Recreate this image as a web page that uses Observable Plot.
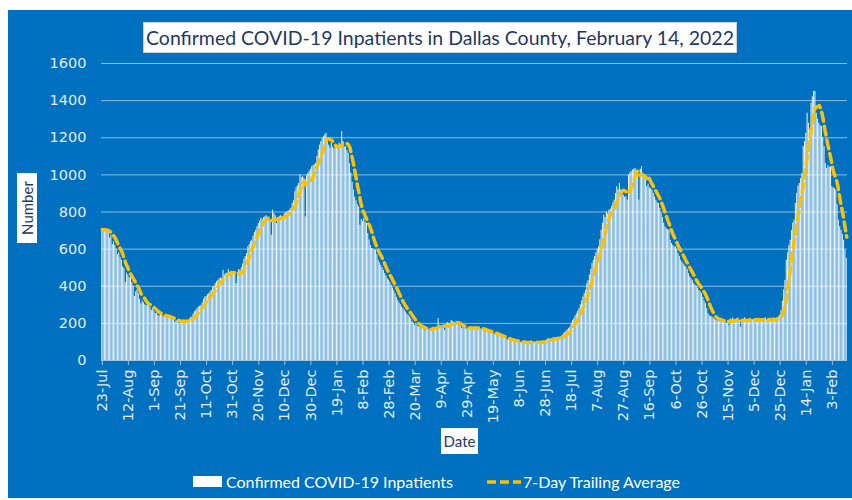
<!DOCTYPE html>
<html><head><meta charset="utf-8">
<script src="https://cdn.jsdelivr.net/npm/d3@7"></script>
<script src="https://cdn.jsdelivr.net/npm/@observablehq/plot@0.6"></script>
<style>
body{margin:0;background:#fff;}
#wrap{position:relative;width:852px;height:500px;overflow:hidden;font-family:Lato,"Open Sans",sans-serif;}
#bg{position:absolute;left:8px;top:10px;width:844px;height:488px;background:#0070C0;}
#chart{position:absolute;left:0;top:0;}
.box{position:absolute;background:#fff;color:#1F3864;white-space:nowrap;text-align:center;box-sizing:border-box;}
#title{left:143px;top:22px;width:594px;height:31px;font-size:19.5px;line-height:30px;border:1px solid #c8d3e0;}
#ylab{left:-8px;top:198px;width:70px;height:20px;font-size:15px;line-height:20px;transform:rotate(-90deg);}
#xlab{left:441px;top:428px;width:37px;height:26px;font-size:15px;line-height:26px;}
.leg{position:absolute;top:472px;color:#fff;font-size:16px;line-height:20px;white-space:nowrap;}
</style></head>
<body>
<div id="wrap">
  <div id="bg"></div>
  <div id="chart"></div>
  <div id="title" class="box">Confirmed COVID-19 Inpatients in Dallas County, February 14, 2022</div>
  <div id="ylab" class="box">Number</div>
  <div id="xlab" class="box">Date</div>
  <div style="position:absolute;left:193px;top:476px;width:29px;height:11px;background:#fff"></div>
  <div class="leg" style="left:226px">Confirmed COVID-19 Inpatients</div>
  <svg style="position:absolute;left:486px;top:476px" width="36" height="12"><line x1="1" y1="6" x2="35" y2="6" stroke="#FFC000" stroke-width="3.5" stroke-dasharray="9,4"/></svg>
  <div class="leg" style="left:523px">7-Day Trailing Average</div>
</div>
<script>
const startDate = "2020-07-23";
const tickLabels = ["23-Jul","12-Aug","1-Sep","21-Sep","11-Oct","31-Oct","20-Nov","10-Dec","30-Dec","19-Jan","8-Feb","28-Feb","20-Mar","9-Apr","29-Apr","19-May","8-Jun","28-Jun","18-Jul","7-Aug","27-Aug","16-Sep","6-Oct","26-Oct","15-Nov","5-Dec","25-Dec","14-Jan","3-Feb"];
const yTicks = [0,200,400,600,800,1000,1200,1400,1600];
// daily confirmed inpatients, one value per day from 23-Jul-2020 to 14-Feb-2022
const inpatients = [
705,700,710,695,700,690,660,675,625,640,620,600,570,580,555,540,505,495,420,470,
460,445,450,420,400,345,370,380,360,330,305,320,310,300,295,300,290,285,270,280,
265,252,255,243,240,252,245,238,240,230,235,234,228,227,220,225,207,215,210,198,
210,216,205,220,212,218,216,225,230,234,250,262,270,280,288,292,297,310,330,342,
345,355,360,370,378,395,400,414,425,432,440,445,441,486,460,468,470,490,460,480,
470,480,465,414,475,490,486,500,520,545,560,576,612,625,640,648,670,690,702,720,
738,750,766,760,770,774,780,765,760,756,675,810,792,780,738,770,775,780,770,774,
790,795,800,805,810,820,846,860,909,930,940,954,999,985,990,981,774,995,1008,1020,
1030,1044,1050,1055,1062,1100,1134,1160,1179,1195,1206,1215,1224,1180,1160,1145,1170,1150,1140,1160,
1150,1140,1170,1160,1233,1180,1150,1152,1130,1116,1060,1010,960,918,880,860,840,827,729,760,
750,766,745,738,684,650,620,603,600,595,594,570,540,525,513,500,485,468,455,440,
432,420,405,390,375,360,340,324,310,300,288,280,270,261,250,243,235,225,210,200,
189,195,185,180,178,175,172,168,162,170,175,168,165,171,180,175,178,172,225,180,
185,190,175,162,195,205,198,200,216,210,205,200,195,198,190,185,171,180,175,170,
171,178,175,180,172,176,170,178,174,172,168,170,165,160,162,158,155,150,152,148,
145,144,138,140,135,130,128,125,124,120,118,112,110,108,105,110,106,102,104,100,
98,100,95,102,96,92,98,100,95,104,97,93,100,98,95,102,96,100,104,98,
105,110,115,119,112,118,120,116,122,119,125,120,128,135,144,150,158,165,172,180,
200,215,225,240,252,265,280,300,320,342,360,378,414,430,460,490,522,540,560,580,
600,612,650,702,740,783,770,801,790,810,815,830,850,864,900,936,920,954,918,900,
890,880,882,864,999,1010,1017,1026,1030,1035,1020,1000,864,1030,1044,990,1000,980,936,950,
930,925,918,900,880,864,850,846,820,792,770,740,720,710,705,702,648,630,620,612,
612,600,576,560,540,530,520,510,504,490,468,450,440,430,414,405,400,390,378,370,
360,340,320,306,280,252,240,238,234,228,222,216,220,210,215,225,205,218,212,200,
215,189,225,220,230,218,212,225,228,215,180,220,224,230,218,210,222,226,215,220,
218,225,212,220,228,216,222,210,225,230,218,214,226,222,215,228,220,224,230,235,
245,270,320,380,432,540,580,620,648,700,740,756,846,900,940,954,980,1008,1152,1180,
1224,1332,1278,1242,1386,1420,1449,1449,1332,1300,1278,1265,1260,1200,1152,1062,1035,1050,1040,1044,
936,930,925,918,840,756,720,702,680,648,594,550
];

const start = new Date(startDate + "T00:00:00Z");
const data = inpatients.map((v, i) => ({i, date: d3.utcDay.offset(start, i), v}));
const tickIdx = d3.range(0, inpatients.length, 20);

const chart = Plot.plot({
  width: 852, height: 500,
  marginLeft: 101, marginRight: 5, marginTop: 63, marginBottom: 140,
  style: {background: "transparent", fontFamily: "DejaVu Sans"},
  x: {type: "band", domain: d3.range(inpatients.length), padding: 0.22, label: null},
  y: {domain: [0, 1600], label: null},
  marks: [
    Plot.gridY(yTicks.slice(1), {stroke: "#ffffff", strokeOpacity: 0.55, strokeWidth: 1}),
    Plot.barY(data, {x: "i", y: "v", fill: "#ffffff", fillOpacity: 0.92}),
    Plot.ruleY([0], {stroke: "#9dc3e6", strokeWidth: 1}),
    Plot.lineY(data, Plot.windowY({k: 7, anchor: "end", reduce: "mean"},
      {x: "i", y: "v", stroke: "#FFC000", strokeWidth: 3.5, strokeDasharray: "9,5"})),
    Plot.axisX({ticks: tickIdx, tickFormat: () => "", tickSize: 5, stroke: "#9dc3e6", label: null}),
    Plot.text(tickIdx, {x: d => d, frameAnchor: "bottom", text: d => tickLabels[d / 20],
      rotate: -90, textAnchor: "end", lineAnchor: "middle", dy: 9, fill: "#e3ebf5",
      fontSize: 14.5, ariaLabel: "xlabels"}),
    Plot.axisY({ticks: yTicks, tickFormat: d => String(d), tickSize: 0, tickPadding: 15,
      fill: "#e3ebf5", fontSize: 14.5, label: null})
  ]
});
// compress the rotated date labels across their glyph height, as in the reference
d3.select(chart).selectAll('g[aria-label="xlabels"] text').each(function() {
  const t = this.getAttribute("transform") || "";
  this.setAttribute("transform", t + " scale(1,0.8)");
});
document.getElementById("chart").appendChild(chart);
</script>
</body></html>
